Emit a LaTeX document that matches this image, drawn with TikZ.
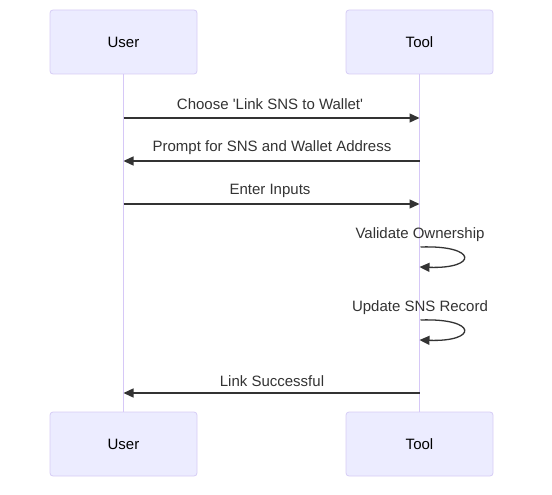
\documentclass[tikz,border=0pt]{standalone}
\usepackage{fontspec}
\setmainfont{Liberation Sans}
\usetikzlibrary{arrows.meta}
\definecolor{actorfill}{HTML}{ECECFF}
\definecolor{actorline}{HTML}{D6CCF5}
\definecolor{lifeline}{HTML}{D6C8F7}
\definecolor{msgcol}{HTML}{333333}
\tikzset{
  actor/.style={draw=actorline, fill=actorfill, rounded corners=3pt, minimum width=147pt, minimum height=64pt, inner sep=0pt, font=\fontsize{15pt}{17pt}\selectfont, text=black, line width=0.8pt},
  life/.style={draw=lifeline, line width=1.6pt},
  msg/.style={draw=msgcol, line width=1.3pt, -{Triangle[length=10pt,width=9pt]}},
  lbl/.style={font=\fontsize{15pt}{17pt}\selectfont, text=msgcol, inner sep=0pt}
}
\begin{document}
\begin{tikzpicture}[x=1pt,y=-1pt]
\useasboundingbox (0,0) rectangle (552,495);
\node[actor] (u1) at (123.5,42) {User};
\node[actor] (t1) at (419.5,42) {Tool};
\node[actor] (u2) at (123.5,444) {User};
\node[actor] (t2) at (419.5,444) {Tool};
\draw[life] (u1.south) -- (u2.north);
\draw[life] (t1.south) -- (t2.north);
% message coordinates
\coordinate (ua) at (123.5,118); \coordinate (ta) at (419.5,118);
\coordinate (ub) at (123.5,161); \coordinate (tb) at (419.5,161);
\coordinate (uc) at (123.5,204); \coordinate (tc) at (419.5,204);
\coordinate (uf) at (123.5,393); \coordinate (tf) at (419.5,393);
\coordinate (s1) at (420.5,247); \coordinate (e1) at (419.5,267);
\coordinate (s2) at (420.5,320); \coordinate (e2) at (419.5,340);
\draw[msg] (ua) -- (ta);
\node[lbl] at (270,104) {Choose \textquotesingle Link SNS to Wallet\textquotesingle};
\draw[msg] (tb) -- (ub);
\node[lbl] at (272,148) {Prompt for SNS and Wallet Address};
\draw[msg] (uc) -- (tc);
\node[lbl] at (270,191) {Enter Inputs};
\node[lbl] at (420,235) {Validate Ownership};
\draw[msg] (s1) .. controls (478,245) and (478,269) .. (e1);
\node[lbl] at (420,308) {Update SNS Record};
\draw[msg] (s2) .. controls (478,318) and (478,342) .. (e2);
\draw[msg] (tf) -- (uf);
\node[lbl] at (272,381) {Link Successful};
\end{tikzpicture}
\end{document}
